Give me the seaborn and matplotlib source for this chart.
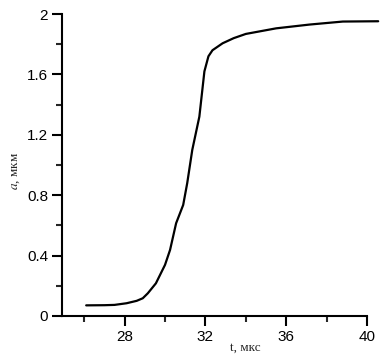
import numpy as np
import pandas as pd
import seaborn as sns
import matplotlib.pyplot as plt
from matplotlib.ticker import MultipleLocator

# values
t_us = [26.1, 27.0, 27.5, 28.1, 28.6, 28.9, 29.15, 29.55, 30.0, 30.25, 30.55,
        30.9, 31.1, 31.35, 31.7, 31.95, 32.15, 32.35, 32.85, 33.4, 34.0,
        35.5, 37.15, 38.8, 40.55]
a_um = [0.07, 0.071, 0.073, 0.084, 0.10, 0.117, 0.15, 0.216, 0.338, 0.437, 0.614,
        0.735, 0.88, 1.10, 1.32, 1.62, 1.72, 1.76, 1.806, 1.84, 1.868,
        1.905, 1.93, 1.95, 1.952]

df = pd.DataFrame({'t': t_us, 'a': a_um})

sns.set_style('ticks')
plt.rcParams['font.family'] = ['Liberation Sans', 'DejaVu Sans']
plt.rcParams['mathtext.fontset'] = 'stix'

fig = plt.figure(figsize=(3.8, 3.59), dpi=100)
ax = fig.add_axes([0.163, 0.12, 0.803, 0.841])

sns.lineplot(data=df, x='t', y='a', color='black', linewidth=1.6, ax=ax,
             clip_on=False, sort=False)

ax.set_xlim(24.9, 40)
ax.set_ylim(0, 2)
ax.xaxis.set_minor_locator(MultipleLocator(2))
ax.yaxis.set_minor_locator(MultipleLocator(0.2))
ax.set_xticks([28, 32, 36, 40])
ax.set_yticks([0, 0.4, 0.8, 1.2, 1.6, 2])
ax.set_yticklabels(['0', '0.4', '0.8', '1.2', '1.6', '2'])

ax.tick_params(which='major', length=7, width=1.5, labelsize=11, colors='black', pad=3)
ax.tick_params(which='minor', length=4.5, width=1.5)
for s in ['left', 'bottom']:
    ax.spines[s].set_linewidth(1.5)
    ax.spines[s].set_color('black')
sns.despine(ax=ax)

ax.set_xlabel('t, мкс', family=['Liberation Serif', 'DejaVu Serif'], fontsize=9.5)
ax.set_ylabel('$\\mathit{a}$, мкм', family=['Liberation Serif', 'DejaVu Serif'], fontsize=9.5)
ax.xaxis.set_label_coords(0.6, -0.085)
ax.yaxis.set_label_coords(-0.13, 0.48)

fig.savefig('out.png', dpi=100)
